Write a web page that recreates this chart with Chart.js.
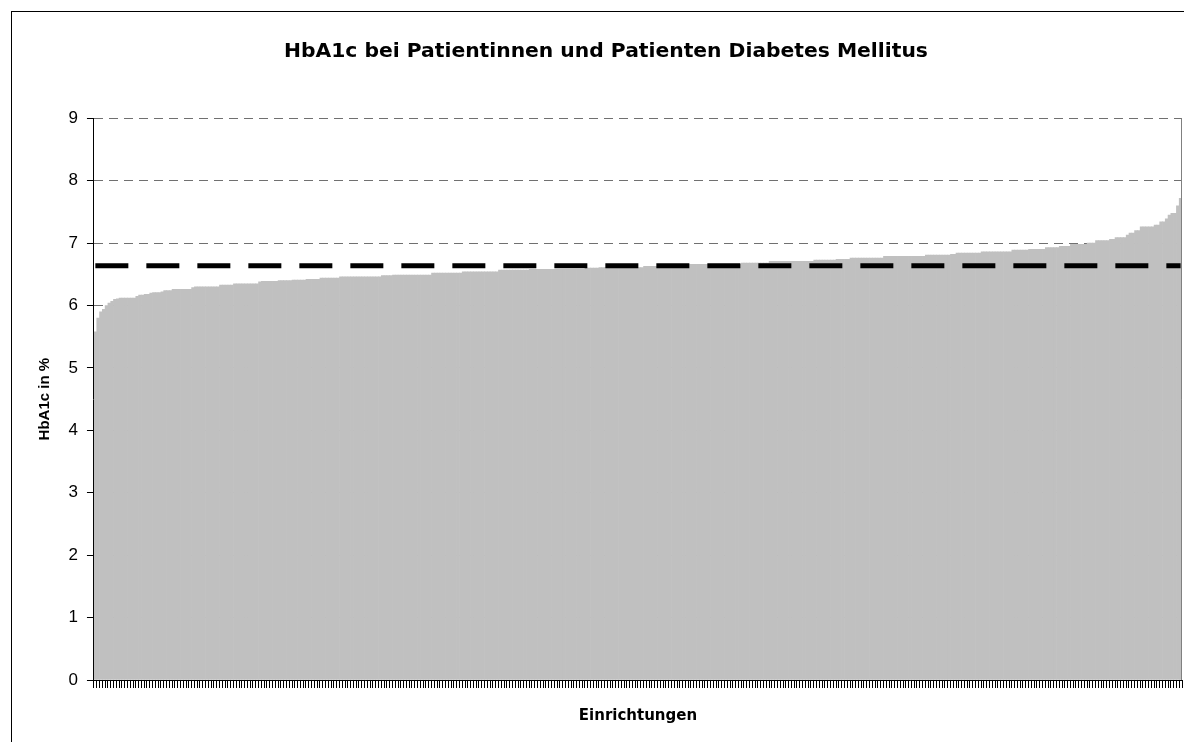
<!DOCTYPE html>
<html>
<head>
<meta charset="utf-8">
<script src="https://cdn.jsdelivr.net/npm/chart.js@4/dist/chart.umd.min.js"></script>
<style>
  html, body { margin: 0; padding: 0; background: #fff; overflow: hidden; }
  #box { width: 1184px; height: 742px; }
</style>
</head>
<body>
<div id="box"><canvas id="myChart" width="1184" height="742"></canvas></div>
<script>
// HbA1c je Einrichtung, aufsteigend sortiert
const hba1cValues = [
  5.58, 5.80, 5.90, 5.94, 6.00, 6.04, 6.07, 6.10, 6.11,
  6.12, 6.12, 6.12, 6.12, 6.12, 6.12,
  6.15, 6.17, 6.17, 6.18, 6.18,
  6.20, 6.21, 6.21, 6.21, 6.22, 6.24, 6.24, 6.24,
  6.26, 6.26, 6.26, 6.26, 6.26, 6.26, 6.26,
  6.29, 6.30, 6.30, 6.30, 6.30, 6.30, 6.30, 6.30, 6.30, 6.30,
  6.33, 6.33, 6.33, 6.33, 6.33,
  6.35, 6.35, 6.35, 6.35, 6.35, 6.35, 6.35, 6.35, 6.35,
  6.38, 6.39, 6.39, 6.39, 6.39, 6.39, 6.39,
  6.40, 6.40, 6.40, 6.40, 6.40, 6.41, 6.41, 6.41, 6.41, 6.41,
  6.42, 6.42, 6.42, 6.42, 6.42,
  6.44, 6.44, 6.44, 6.44, 6.44, 6.44, 6.44,
  6.46, 6.46, 6.46, 6.46, 6.46, 6.46, 6.46, 6.46, 6.46, 6.46, 6.46, 6.46, 6.46, 6.46, 6.46,
  6.48, 6.48, 6.48, 6.48,
  6.49, 6.49, 6.49, 6.49, 6.49, 6.49, 6.49, 6.49, 6.49, 6.49, 6.49, 6.49, 6.49, 6.49,
  6.52, 6.52, 6.52, 6.52, 6.52, 6.52, 6.52, 6.52, 6.52, 6.52, 6.52,
  6.54, 6.54, 6.54, 6.54, 6.54, 6.54, 6.54, 6.54, 6.54, 6.54, 6.54, 6.54, 6.54,
  6.57, 6.57, 6.57, 6.57, 6.57, 6.57, 6.57, 6.57, 6.57, 6.57, 6.57,
  6.58, 6.58, 6.58, 6.58, 6.58, 6.58, 6.58, 6.58, 6.58, 6.58,
  6.58, 6.58, 6.58, 6.58, 6.58, 6.58, 6.58, 6.58, 6.58, 6.58,
  6.60, 6.60, 6.60, 6.60, 6.60,
  6.61, 6.61, 6.61, 6.61, 6.61, 6.61, 6.61, 6.61, 6.61, 6.61, 6.61, 6.61, 6.61, 6.61, 6.61, 6.61,
  6.63, 6.63, 6.63, 6.63, 6.63, 6.63, 6.63, 6.63, 6.63, 6.63, 6.63, 6.63, 6.63, 6.63, 6.63, 6.63,
  6.66, 6.66, 6.66, 6.66, 6.66, 6.66, 6.66, 6.66, 6.66, 6.66,
  6.66, 6.66, 6.66, 6.66, 6.66, 6.66, 6.66, 6.66, 6.66,
  6.68, 6.68, 6.68, 6.68, 6.68, 6.68, 6.68, 6.68, 6.68, 6.68,
  6.71, 6.71, 6.71, 6.71, 6.71, 6.71, 6.71, 6.71, 6.71, 6.71, 6.71, 6.71, 6.71, 6.71, 6.71, 6.71,
  6.73, 6.73, 6.73, 6.73, 6.73, 6.73, 6.73, 6.73,
  6.74, 6.74, 6.74, 6.74, 6.74,
  6.76, 6.76, 6.76, 6.76, 6.76, 6.76, 6.76, 6.76, 6.76, 6.76, 6.76, 6.76,
  6.79, 6.79, 6.79, 6.79, 6.79, 6.79, 6.79, 6.79, 6.79, 6.79, 6.79, 6.79, 6.79, 6.79, 6.79,
  6.81, 6.81, 6.81, 6.81, 6.81, 6.81, 6.81, 6.81, 6.81, 6.82, 6.82,
  6.84, 6.84, 6.84, 6.84, 6.84, 6.84, 6.84, 6.84, 6.84,
  6.86, 6.86, 6.86, 6.86, 6.86, 6.86, 6.86, 6.86, 6.86, 6.86, 6.86,
  6.89, 6.89, 6.89, 6.89, 6.89, 6.89, 6.90, 6.90, 6.90, 6.90, 6.90, 6.90,
  6.93, 6.93, 6.93, 6.93, 6.93, 6.95, 6.95, 6.95, 6.95,
  6.98, 6.98, 6.98, 6.98, 6.98, 6.98, 7.00, 7.00, 7.00,
  7.04, 7.04, 7.04, 7.04, 7.04, 7.06, 7.06, 7.09, 7.09, 7.09, 7.09,
  7.13, 7.16, 7.16, 7.20, 7.20, 7.26, 7.26, 7.26, 7.26, 7.26,
  7.29, 7.29, 7.34, 7.34, 7.39, 7.45, 7.48, 7.48, 7.60, 7.72
];
// Mittelwert (gestrichelte Linie)
const meanValue = 6.64;
const einrichtungen = hba1cValues.map((v, i) => 'E' + (i + 1));
const yTicks = [0, 1, 2, 3, 4, 5, 6, 7, 8, 9];

const frame = {
  id: 'frame',
  beforeDraw(chart) {
    const c = chart.ctx;
    c.save();
    c.strokeStyle = '#000';
    c.lineWidth = 1;
    c.strokeRect(11.5, 11.5, 1300, 900);
    c.restore();
  },
  afterDatasetsDraw(chart) {
    const a = chart.chartArea;
    const c = chart.ctx;
    c.save();
    c.strokeStyle = '#808080';
    c.lineWidth = 1;
    c.beginPath();
    c.moveTo(Math.round(a.right) - 0.5, a.top);
    c.lineTo(Math.round(a.right) - 0.5, a.bottom);
    c.stroke();
    c.restore();
  }
};

const ctx = document.getElementById('myChart').getContext('2d');
new Chart(ctx, {
  type: 'bar',
  data: {
    labels: einrichtungen,
    datasets: [
      {
        type: 'line',
        data: einrichtungen.map(() => meanValue),
        borderColor: '#000',
        borderWidth: 5,
        borderDash: [33, 18],
        pointRadius: 0,
        fill: false,
        order: 0
      },
      {
        data: hba1cValues,
        backgroundColor: '#c0c0c0',
        borderWidth: 0,
        barPercentage: 1,
        categoryPercentage: 1,
        order: 1
      }
    ]
  },
  options: {
    responsive: false,
    animation: false,
    events: [],
    layout: { padding: { left: 30, right: 2, top: 0, bottom: 0 } },
    scales: {
      x: {
        grid: {
          display: true,
          drawOnChartArea: false,
          color: '#000',
          tickLength: 8
        },
        border: { color: '#000', width: 1 },
        ticks: { display: false, autoSkip: false },
        title: {
          display: true,
          text: 'Einrichtungen',
          color: '#000',
          font: { family: 'DejaVu Sans', size: 15, weight: 'bold' },
          padding: { top: 19, bottom: 17 }
        }
      },
      y: {
        min: 0,
        max: 9,
        afterBuildTicks: (axis) => { axis.ticks = yTicks.map(v => ({ value: v })); },
        grid: {
          color: '#707070',
          tickLength: 7,
          tickColor: '#000',
          tickBorderDash: []
        },
        border: { color: '#000', width: 1, dash: [9, 6] },
        ticks: {
          color: '#000',
          padding: 9,
          font: { family: 'Liberation Sans', size: 17 }
        },
        title: {
          display: true,
          text: 'HbA1c in %',
          color: '#000',
          font: { family: 'Liberation Sans', size: 15, weight: 'bold' },
          padding: { top: 6, bottom: 5.5 }
        }
      }
    },
    plugins: {
      legend: { display: false },
      tooltip: { enabled: false },
      title: {
        display: true,
        text: 'HbA1c bei Patientinnen und Patienten Diabetes Mellitus',
        color: '#000',
        font: { family: 'DejaVu Sans', size: 20.3, weight: 'bold' },
        padding: { top: 40, bottom: 54 }
      }
    }
  },
  plugins: [frame]
});
</script>
</body>
</html>
